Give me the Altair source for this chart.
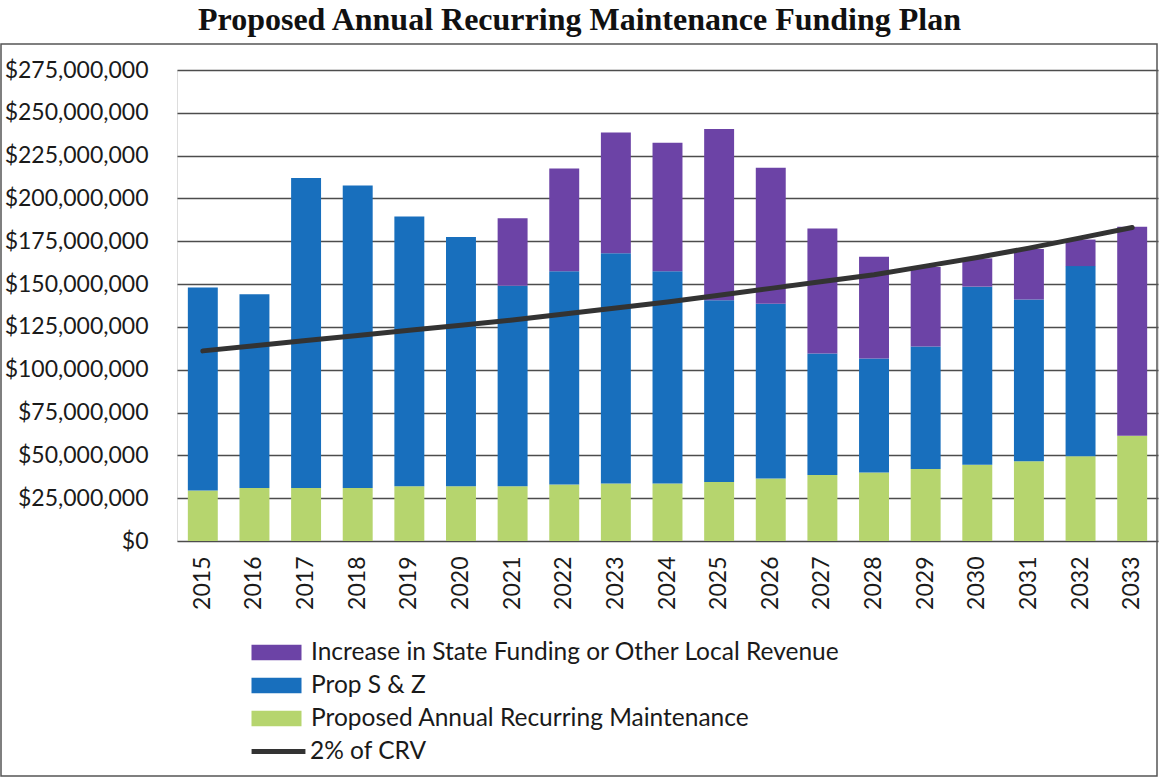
import altair as alt
import pandas as pd

years = [str(y) for y in range(2015, 2034)]
maint = [29.5, 31, 31, 31, 32, 32, 32, 33, 33.5, 33.5, 34.5, 36.5, 38.5, 40, 42, 44.5, 46.5, 49.5, 61.5]
prop_sz = [118.5, 113, 181, 176.5, 157.5, 145.5, 117, 124.5, 134.5, 124, 106, 102, 71, 66.5, 71.5, 104, 94.5, 111, 0]
increase = [0, 0, 0, 0, 0, 0, 39.5, 60, 70.5, 75, 100, 79.5, 73, 59.5, 46.5, 16.5, 29.5, 15.5, 122]
crv = [111, 114, 117, 120, 123, 126, 129, 132.5, 136, 139.5, 143.5, 147.5, 151.5, 155.5, 160.5, 165.5, 171, 177, 183]

S_INC = "Increase in State Funding or Other Local Revenue"
S_PROP = "Prop S & Z"
S_MAINT = "Proposed Annual Recurring Maintenance"
S_CRV = "2% of CRV"

rows = []
for i, y in enumerate(years):
    rows.append({"year": y, "series": S_MAINT, "value": maint[i] * 1e6, "ord": 0})
    rows.append({"year": y, "series": S_PROP, "value": prop_sz[i] * 1e6, "ord": 1})
    rows.append({"year": y, "series": S_INC, "value": increase[i] * 1e6, "ord": 2})
bars_df = pd.DataFrame(rows)
line_df = pd.DataFrame({"year": years, "value": [v * 1e6 for v in crv], "series": [S_CRV] * len(years)})

FONT = "Lato"
x_enc = alt.X("year:N", sort=years, title=None,
              scale=alt.Scale(paddingInner=0.42, paddingOuter=0.21),
              axis=alt.Axis(labelAngle=270, labelAlign="right", labelBaseline="middle",
                            labelFontSize=23, labelFont=FONT, labelColor="#1a1a1a",
                            labelPadding=15, ticks=False, domain=False))
y_scale = alt.Scale(domain=[0, 275e6])
y_axis = alt.Axis(values=[i * 25e6 for i in range(12)], format="$,.0f", labelFontSize=23,
                  labelFont=FONT, labelColor="#1a1a1a", labelPadding=29, ticks=False,
                  domain=False, grid=True, gridColor="#4d4d4d", gridWidth=1.6)

border = alt.Chart(pd.DataFrame({"k": [0]})).mark_rect(
    fill=None, stroke="#555555", strokeWidth=1.5
).encode(x=alt.value(-176), x2=alt.value(980), y=alt.value(-26), y2=alt.value(706))

bars = alt.Chart(bars_df).mark_bar().encode(
    x=x_enc,
    y=alt.Y("value:Q", stack="zero", scale=y_scale, axis=y_axis, title=None),
    color=alt.Color("series:N",
                    scale=alt.Scale(domain=[S_INC, S_PROP, S_MAINT],
                                    range=["#6c43a6", "#186fbd", "#b6d56e"]),
                    legend=alt.Legend(title=None, orient="none", legendX=87, legendY=570,
                                      symbolType="M-2,-0.62H2V0.62H-2Z", symbolSize=625,
                                      symbolStrokeWidth=0, labelFont=FONT, labelFontSize=24.5,
                                      labelColor="#1a1a1a", labelOffset=22, rowPadding=8,
                                      padding=0, labelLimit=800)),
    order=alt.Order("ord:Q", sort="ascending"),
)

line = alt.Chart(line_df).mark_line(strokeWidth=5, strokeCap="round").encode(
    x=alt.X("year:N", sort=years),
    y=alt.Y("value:Q", scale=y_scale),
    stroke=alt.Stroke("series:N", scale=alt.Scale(domain=[S_CRV], range=["#333333"]),
                      legend=alt.Legend(title=None, orient="none", legendX=72, legendY=652,
                                        symbolType="stroke", symbolSize=2900,
                                        symbolStrokeWidth=5, labelFont=FONT, labelFontSize=24.5,
                                        labelColor="#1a1a1a", labelOffset=2, padding=0)),
)

chart = alt.layer(border, bars, line).resolve_scale(color="independent", stroke="independent").properties(
    width=981, height=471,
    autosize=alt.AutoSizeParams(type="none"),
    padding={"left": 177, "top": 70, "right": 1, "bottom": 237},
    title=alt.TitleParams("Proposed Annual Recurring Maintenance Funding Plan",
                          font="Liberation Serif", fontSize=32, fontWeight="bold",
                          color="#111111", anchor="middle", dx=-88, offset=6),
).configure_view(stroke=None).configure(background="white")

chart.save("out.html", embed_options={"renderer": "svg", "actions": False})
